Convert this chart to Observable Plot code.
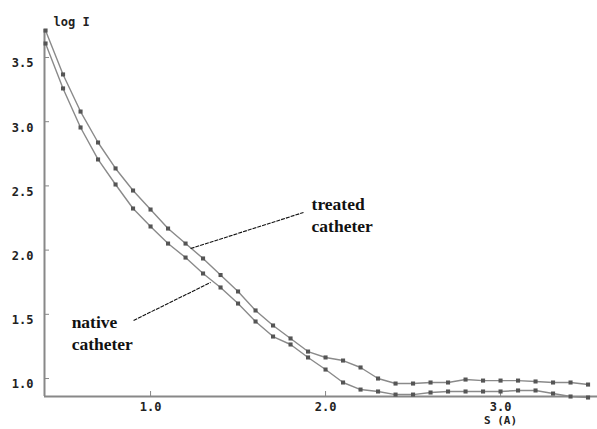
<!DOCTYPE html>
<html><head><meta charset="utf-8">
<script src="https://cdn.jsdelivr.net/npm/d3@7"></script>
<script src="https://cdn.jsdelivr.net/npm/@observablehq/plot@0.6"></script>
<style>
html,body{margin:0;padding:0;background:#fff;}
</style>
</head><body>
<div id="chart"></div>
<script>
const sValues = [0.4,0.5,0.6,0.7,0.8,0.9,1.0,1.1,1.2,1.3,1.4,1.5,1.6,1.7,1.8,1.9,2.0,2.1,2.2,2.3,2.4,2.5,2.6,2.7,2.8,2.9,3.0,3.1,3.2,3.3,3.4,3.5];
const treated = [3.71,3.368,3.079,2.838,2.636,2.464,2.316,2.168,2.051,1.935,1.806,1.678,1.53,1.413,1.312,1.21,1.164,1.14,1.086,1.0,0.961,0.961,0.969,0.969,0.992,0.984,0.984,0.984,0.977,0.969,0.969,0.953];
const native = [3.609,3.259,2.955,2.706,2.511,2.324,2.184,2.051,1.942,1.818,1.709,1.584,1.444,1.327,1.265,1.164,1.07,0.969,0.914,0.899,0.875,0.875,0.891,0.899,0.899,0.899,0.899,0.907,0.907,0.883,0.86,0.852];
const yTicks = [1.0,1.5,2.0,2.5,3.0,3.5];
const xTicks = [1.0,2.0,3.0];
const xDomain = [0.394, 3.554];
const yDomain = [0.86, 3.718];
const annotationText = [
  {s:1.92, v:2.281, label:"treated\ncatheter"},
  {s:0.549, v:1.366, label:"native\ncatheter"}
];
const leaders = [
  {s1:1.229, v1:2.012, s2:1.874, v2:2.293},
  {s1:0.903, v1:1.452, s2:1.343, v2:1.748}
];

const rows = [];
sValues.forEach((s,i)=>{ rows.push({series:"treated", s, v:treated[i]}); rows.push({series:"native", s, v:native[i]}); });

const chart = Plot.plot({
  width: 597, height: 429,
  marginLeft: 44, marginRight: 0, marginTop: 29, marginBottom: 33,
  style: {fontFamily: "'DejaVu Sans Mono', monospace", fontWeight: "bold", fontSize: "12px", color: "#222", background: "#fff"},
  x: {domain: xDomain, ticks: xTicks, tickFormat: d => d.toFixed(1)},
  y: {domain: yDomain, ticks: yTicks, tickFormat: d => d.toFixed(1)},
  marks: [
    Plot.axisY({ticks: yTicks, tickSize: 0, tickPadding: 11, dy: 6, tickFormat: d => d.toFixed(1), label: null, fill: "#222"}),
    Plot.axisX({ticks: xTicks, tickSize: 0, tickPadding: 6, tickFormat: d => d.toFixed(1), label: null, fill: "#222"}),
    Plot.ruleY(yTicks, {x1: xDomain[0], x2: xDomain[0], insetRight: -5, stroke: "#888", strokeWidth: 1}),
    Plot.ruleX(xTicks, {y1: yDomain[0], y2: yDomain[0], insetBottom: 5, stroke: "#888", strokeWidth: 1}),
    Plot.ruleX([xDomain[0]], {stroke: "#888", strokeWidth: 2}),
    Plot.ruleY([yDomain[0]], {stroke: "#888", strokeWidth: 2}),
    Plot.line(rows, {x: "s", y: "v", z: "series", stroke: "#8a8a8a", strokeWidth: 1.4}),
    Plot.dot(rows, {x: "s", y: "v", symbol: "square", r: 2.3, fill: "#555", stroke: "none"}),
    Plot.link(leaders, {x1: "s1", y1: "v1", x2: "s2", y2: "v2", stroke: "#111", strokeWidth: 1.1, strokeDasharray: "4,1"}),
    Plot.text(annotationText, {x: "s", y: "v", text: "label", textAnchor: "start", lineHeight: 1.27, fontFamily: "'Liberation Serif', serif", fontWeight: "bold", fontSize: 17.5, fill: "#111"}),
    Plot.text(["log I"], {frameAnchor: "top-left", dx: 9, dy: -12, textAnchor: "start", fill: "#222"}),
    Plot.text(["S (A)"], {x: 3.0, frameAnchor: "bottom", dy: 27.5, fontSize: 11, fill: "#222"})
  ]
});
document.getElementById("chart").appendChild(chart);
</script>
</body></html>
